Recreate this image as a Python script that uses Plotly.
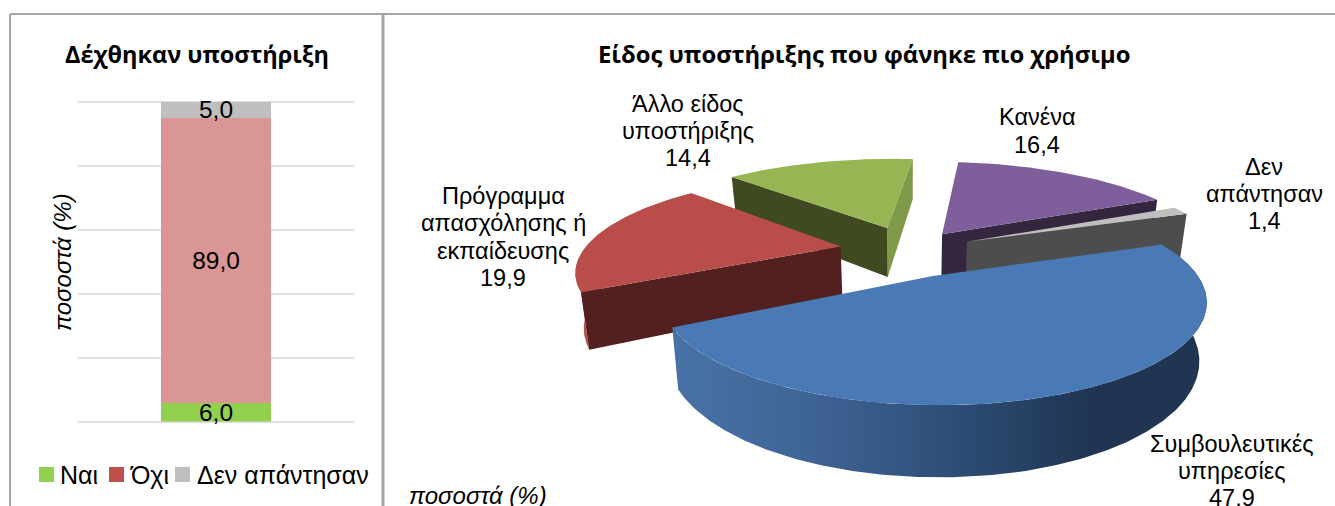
import math
import plotly.graph_objects as go

bar_names = ["Ναι", "Όχι", "Δεν απάντησαν"]
bar_values = [6.0, 89.0, 5.0]
bar_category = ["Δέχθηκαν υποστήριξη"]

pie_names = ["Συμβουλευτικές<br>υπηρεσίες", "Πρόγραμμα<br>απασχόλησης ή<br>εκπαίδευσης",
             "Άλλο είδος<br>υποστήριξης", "Κανένα", "Δεν<br>απάντησαν"]
pie_values = [47.9, 19.9, 14.4, 16.4, 1.4]

W, H = 1335, 506
bar_fill = ["#92d050", "#d99694", "#bfbfbf"]
legend_fill = ["#92d050", "#c0504d", "#bfbfbf"]
top_fill = ["#4a7ab6", "#b84d49", "#96b654", "#7e5f9c", "#bfbfbf"]
explode = [0.29, 0.27, 0.27, 0.22, 0.24]
radius = [0.95, 0.98, 1.03, 1.05, 1.0]
shift_x = [-0.035, 0, 0, 0, 0]
LBL = "Liberation Sans"
TTL = "Open Sans"
FS = 23.5

fmt = lambda v: f"{v:.1f}".replace(".", ",")

# 3-D pie projection
cx, cy, a, b, p, depth, start, taper = 910, 250, 262, 92, 0.23, 52, 70.0, 0.025


def proj(X, Y, z=0):
    s = 1 / (1 + p * Y)
    return cx + a * X * s * (1 - taper * z), cy - b * Y * s + depth * z * s


total = sum(pie_values)
spans = []
t = start
for v in pie_values:
    spans.append((t, t + v / total * 360))
    t += v / total * 360


def rim(th, off, R, z=0):
    r = math.radians(th)
    return proj(R * math.sin(r) + off[0], R * math.cos(r) + off[1], z)


def arc(t0, t1, off, R, z=0):
    n = max(2, int((t1 - t0) * 1.5))
    return [rim(t0 + (t1 - t0) * i / n, off, R, z) for i in range(n + 1)]


fig = go.Figure()


def poly(pts, color=None, gradient=None):
    xs = [q[0] for q in pts] + [pts[0][0]]
    ys = [q[1] for q in pts] + [pts[0][1]]
    kw = dict(fillgradient=gradient) if gradient else dict(fillcolor=color)
    fig.add_trace(go.Scatter(x=xs, y=ys, mode="lines", fill="toself", line=dict(width=0),
                             hoverinfo="skip", showlegend=False, xaxis="x", yaxis="y", **kw))


blue_grad = dict(type="horizontal",
                 colorscale=[[0, "#4872a6"], [0.25, "#3f6596"], [0.5, "#2f507a"],
                             [0.78, "#1f3552"], [1, "#1f3552"]])
arc_wall = [dict(gradient=blue_grad), dict(color="#b94f4b"), None, None, None]
start_wall = [None, "#52201e", "#3f4a21", None, None]
end_wall = [None, None, "#7f9a48", "#35263f", "#4d4d4d"]

for i in [2, 3, 4, 1, 0]:
    t0, t1 = spans[i]
    R = radius[i]
    mid = math.radians((t0 + t1) / 2)
    off = (explode[i] * math.sin(mid) + shift_x[i], explode[i] * math.cos(mid))
    apex0, apex1 = proj(off[0], off[1]), proj(off[0], off[1], 1)
    if arc_wall[i]:
        poly(arc(t0, t1, off, R) + arc(t0, t1, off, R, 1)[::-1], **arc_wall[i])
    if end_wall[i]:
        poly([apex0, rim(t1, off, R), rim(t1, off, R, 1), apex1], end_wall[i])
    if start_wall[i]:
        poly([apex0, rim(t0, off, R), rim(t0, off, R, 1), apex1], start_wall[i])
    poly([apex0] + arc(t0, t1, off, R), top_fill[i])

# stacked bar
for name, val, col in zip(bar_names, bar_values, bar_fill):
    fig.add_trace(go.Bar(x=bar_category, y=[val], name=name, marker=dict(color=col, line=dict(width=0)),
                         width=0.4, text=[fmt(val)], textposition="inside", textangle=0,
                         insidetextanchor="middle", constraintext="none",
                         textfont=dict(family=LBL, size=24.5, color="#000000"),
                         cliponaxis=False, showlegend=False, xaxis="x2", yaxis="y2"))

ann = []
label_pos = [(1232, 471), (503, 237), (688, 131), (1037, 131), (1264, 194)]
line_step = 27.3
for name, val, (x, y) in zip(pie_names, pie_values, label_pos):
    lines = name.split("<br>") + [fmt(val)]
    for j, line in enumerate(lines):
        ann.append(dict(x=x, y=y + (j - (len(lines) - 1) / 2) * line_step, xref="x", yref="y", text=line,
                        showarrow=False, font=dict(family=LBL, size=FS, color="#000000"), align="center"))
ann.append(dict(x=197, y=54, xref="x", yref="y", text="<b>Δέχθηκαν υποστήριξη</b>", showarrow=False,
                font=dict(family=TTL, size=23.5, color="#000000")))
ann.append(dict(x=864, y=54, xref="x", yref="y", text="<b>Είδος υποστήριξης που φάνηκε πιο χρήσιμο</b>",
                showarrow=False, font=dict(family=TTL, size=23.8, color="#000000")))
ann.append(dict(x=478, y=495, xref="x", yref="y", text="<i>ποσοστά (%)</i>", showarrow=False,
                font=dict(family=LBL, size=24, color="#000000")))
ann.append(dict(x=62, y=262, xref="x", yref="y", text="<i>ποσοστά (%)</i>", showarrow=False, textangle=-90,
                font=dict(family=LBL, size=24, color="#000000")))

shapes = [
    dict(type="line", xref="x", yref="y", x0=10, x1=W, y0=14, y1=14, line=dict(color="#a6a6a6", width=2)),
    dict(type="line", xref="x", yref="y", x0=10, x1=10, y0=14, y1=H, line=dict(color="#a6a6a6", width=2)),
    dict(type="line", xref="x", yref="y", x0=383, x1=383, y0=14, y1=H, line=dict(color="#a6a6a6", width=3)),
]
swatch_x = [39, 109, 175]
text_x = [58, 128, 195]
for name, col, sx, tx in zip(bar_names, legend_fill, swatch_x, text_x):
    shapes.append(dict(type="rect", xref="x", yref="y", x0=sx, x1=sx + 15, y0=467, y1=482,
                       fillcolor=col, line=dict(width=0)))
    ann.append(dict(x=tx, y=474.5, xref="x", yref="y", text=name, showarrow=False, xanchor="left",
                    font=dict(family=LBL, size=25, color="#000000")))

fig.update_layout(
    width=W, height=H, autosize=False, margin=dict(l=0, r=0, t=0, b=0),
    paper_bgcolor="#ffffff", plot_bgcolor="rgba(0,0,0,0)", barmode="stack", bargap=0,
    showlegend=False, annotations=ann, shapes=shapes,
    xaxis=dict(range=[0, W], domain=[0, 1], visible=False, fixedrange=True),
    yaxis=dict(range=[H, 0], domain=[0, 1], visible=False, fixedrange=True),
    xaxis2=dict(domain=[78 / W, 354 / W], anchor="y2", showticklabels=False, showgrid=False,
                zeroline=False, showline=False, ticks=""),
    yaxis2=dict(domain=[1 - 421.5 / H, 1 - 96.7 / H], anchor="x2", range=[0, 101.5], dtick=20,
                showticklabels=False, ticks="", gridcolor="#e0e0e0", gridwidth=1.5,
                zeroline=True, zerolinecolor="#e0e0e0", zerolinewidth=1.5, showline=False),
)
fig.write_html("out.html", config=dict(displayModeBar=False),
               post_script="document.body.style.margin='0';document.body.style.overflow='hidden';")
